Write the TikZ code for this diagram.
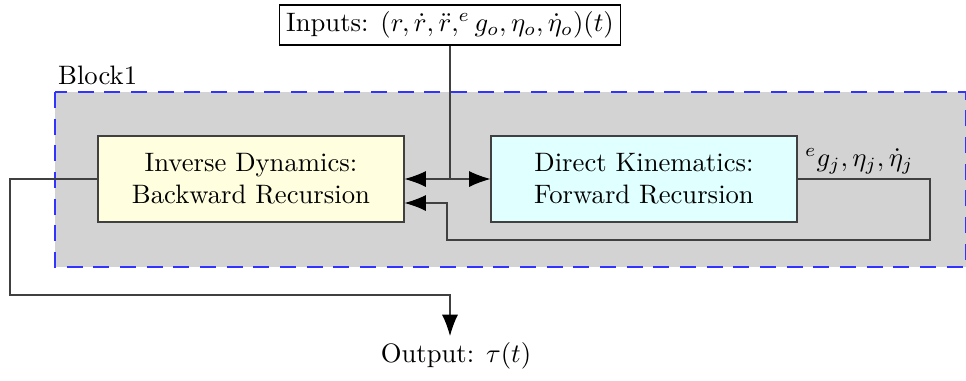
\documentclass[tikz,border=0pt]{standalone}
\usetikzlibrary{arrows.meta}

\definecolor{blockgray}{RGB}{211,211,211}
\definecolor{invyellow}{RGB}{255,255,224}
\definecolor{dircyan}{RGB}{224,255,255}

\begin{document}
\begin{tikzpicture}[x=0.375pt,y=-0.375pt,
    blockbox/.style={draw=black!75,minimum width=114.75pt,minimum height=32.25pt,align=center},
    arr/.style={-{Latex[color=black,length=8pt,width=6pt]}},
    wire/.style={draw=black!75}]
    \useasboundingbox (0,0) rectangle (966,380);

    % block background
    \draw[blue!80,dash pattern=on 6pt off 4pt,line width=0.6pt,fill=blockgray] (55,92) rectangle (966,267);
    \node[anchor=south west,inner sep=1pt] (lbl) at (55,88) {Block1};

    \node[draw=black,inner sep=2.5pt,minimum height=15pt] (inp) at (450,25) {Inputs: $(r,\dot r,\ddot r,^e g_o,\eta_o,\dot\eta_o)(t)$};
    \node[blockbox,fill=invyellow] (inv) at (251,179) {Inverse Dynamics:\\Backward Recursion};
    \node[blockbox,fill=dircyan] (dir) at (644,179) {Direct Kinematics:\\Forward Recursion};
    \node (out) at (456,356) {Output: $\tau(t)$};

    \coordinate (split) at (450,179);
    \coordinate (fb) at (447,203);
    \coordinate (oend) at (450,336);

    \draw [wire](inp.south) -- (split);
    \draw [wire,arr](split) -- (inv.east);
    \draw [wire,arr](split) -- (dir.west);
    \draw [wire,arr](dir.east) -- (930,179) |- (447,240) -- (fb) -- (fb -| inv.east);
    \draw [wire,arr](inv.west) -- (10,179) |- (450,295) -- (oend);

    \node[anchor=south west,inner sep=1pt] (sig) at (802,177) {${}^e g_j,\eta_j,\dot\eta_j$};
\end{tikzpicture}
\end{document}
